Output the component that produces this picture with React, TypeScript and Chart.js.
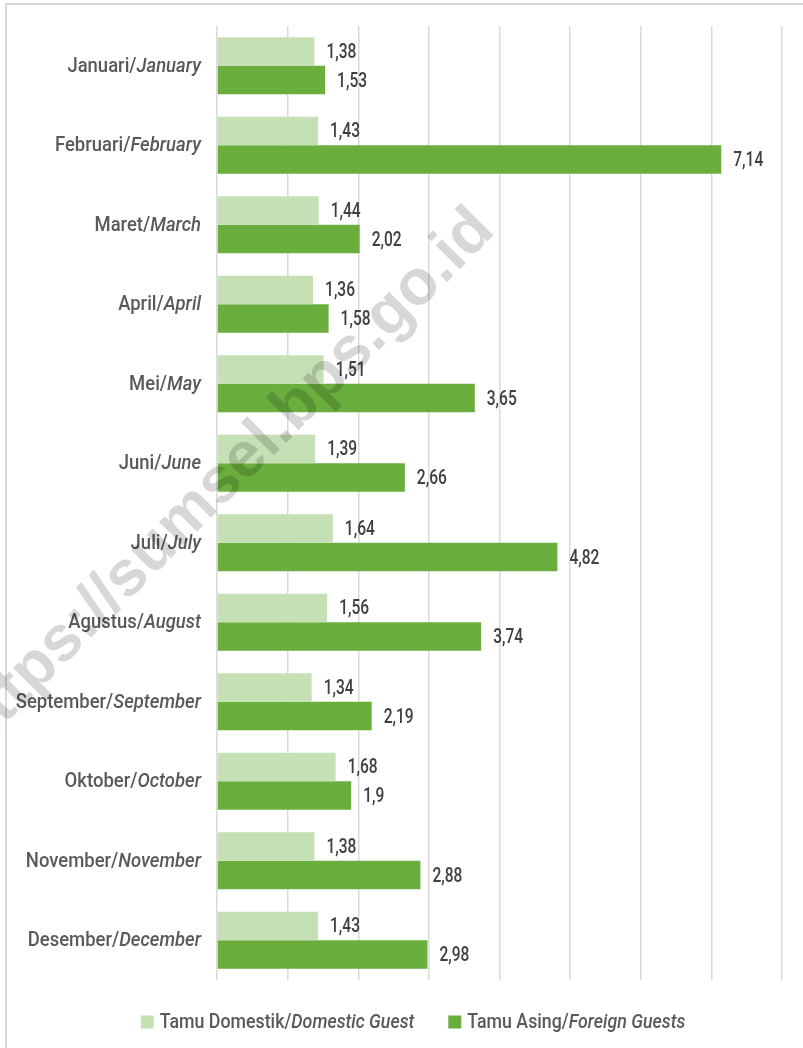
import React, { useEffect, useRef } from "react";
import { Chart, registerables } from "chart.js";

Chart.register(...registerables);

const monthsId = ["Januari", "Februari", "Maret", "April", "Mei", "Juni", "Juli", "Agustus", "September", "Oktober", "November", "Desember"];
const monthsEn = ["January", "February", "March", "April", "May", "June", "July", "August", "September", "October", "November", "December"];
const domestic = [1.38, 1.43, 1.44, 1.36, 1.51, 1.39, 1.64, 1.56, 1.34, 1.68, 1.38, 1.43];
const foreign = [1.53, 7.14, 2.02, 1.58, 3.65, 2.66, 4.82, 3.74, 2.19, 1.9, 2.88, 2.98];
const xMin = 0;
const xMax = 8;
const xStep = 1;
const seriesId = ["Tamu Domestik", "Tamu Asing"];
const seriesEn = ["Domestic Guest", "Foreign Guests"];
const watermarkText = "https://sumsel.bps.go.id";

const COLORS = ["#c6e0b5", "#6aae3e"];
const FONT = 'Roboto, "Noto Sans", sans-serif';

const fmt = (v: number) => String(v).replace(".", ",");

// draw text horizontally condensed by factor sx, left-aligned at x
function drawScaled(ctx: any, text: string, x: number, y: number, sx: number) {
  ctx.save();
  ctx.translate(x, y);
  ctx.scale(sx, 1);
  ctx.fillText(text, 0, 0);
  ctx.restore();
}

export default function App() {
  const ref = useRef<HTMLCanvasElement | null>(null);

  useEffect(() => {
    const canvas = ref.current;
    if (!canvas) return;

    const LABEL_FONT_N = `500 20px ${FONT}`;
    const LABEL_FONT_I = `italic 500 20px ${FONT}`;
    const VAL_FONT = `500 20px ${FONT}`;

    const customPlugin = {
      id: "custom",
      afterDatasetsDraw(chart: any) {
        const ctx = chart.ctx;
        ctx.save();
        ctx.font = VAL_FONT;
        const sx = 30 / ctx.measureText("1,38").width;
        ctx.fillStyle = "#404040";
        ctx.textAlign = "left";
        ctx.textBaseline = "middle";
        chart.data.datasets.forEach((ds: any, di: number) => {
          const meta = chart.getDatasetMeta(di);
          meta.data.forEach((el: any, i: number) => {
            drawScaled(ctx, fmt(ds.data[i]), el.x + 12, el.y + 1.5, sx);
          });
        });
        ctx.restore();
      },
      afterDraw(chart: any) {
        const ctx = chart.ctx;
        const yScale = chart.scales.y;
        ctx.save();
        ctx.fillStyle = "#595959";
        ctx.textBaseline = "middle";
        ctx.textAlign = "left";

        // condense factor fitted so that the widest label matches the reference
        ctx.font = LABEL_FONT_N;
        const wRefN = ctx.measureText("Februari/").width;
        ctx.font = LABEL_FONT_I;
        const wRefI = ctx.measureText("February").width;
        const sx = 146 / (wRefN + wRefI);

        const rightX = 201;
        monthsId.forEach((m, i) => {
          const y = yScale.getPixelForValue(i) + 1;
          ctx.font = LABEL_FONT_I;
          const wi = ctx.measureText(monthsEn[i]).width * sx;
          ctx.font = LABEL_FONT_N;
          const norm = m + "/";
          const wn = ctx.measureText(norm).width * sx;
          drawScaled(ctx, norm, rightX - wi - wn, y, sx);
          ctx.font = LABEL_FONT_I;
          drawScaled(ctx, monthsEn[i], rightX - wi, y, sx);
        });

        // legend
        const legendY = 1022;
        const box = 13;
        const gapBox = 6;
        const gapItems = 34;
        const lsx = sx * 0.963;
        const widths = seriesId.map((s, i) => {
          ctx.font = LABEL_FONT_N;
          const a = ctx.measureText(s + "/").width * lsx;
          ctx.font = LABEL_FONT_I;
          const b = ctx.measureText(seriesEn[i]).width * lsx;
          return { a, b, total: box + gapBox + a + b };
        });
        const totalW = widths.reduce((s, w) => s + w.total, 0) + gapItems;
        let lx = 413 - totalW / 2;
        seriesId.forEach((s, i) => {
          ctx.fillStyle = COLORS[i];
          ctx.fillRect(lx, legendY - box / 2, box, box);
          ctx.fillStyle = "#595959";
          ctx.font = LABEL_FONT_N;
          drawScaled(ctx, s + "/", lx + box + gapBox, legendY + 1, lsx);
          ctx.font = LABEL_FONT_I;
          drawScaled(ctx, seriesEn[i], lx + box + gapBox + widths[i].a, legendY + 1, lsx);
          lx += widths[i].total + gapItems;
        });

        // watermark
        ctx.translate(224, 480);
        ctx.rotate(-Math.PI / 4);
        ctx.font = `bold 64px "Liberation Sans", Arial, sans-serif`;
        ctx.fillStyle = "rgba(0,0,0,0.155)";
        ctx.textAlign = "center";
        ctx.textBaseline = "middle";
        ctx.fillText(watermarkText, 0, 0);
        ctx.restore();
      },
    };

    const chart = new Chart(canvas, {
      type: "bar",
      data: {
        labels: monthsId.map((m, i) => `${m}/${monthsEn[i]}`),
        datasets: [
          {
            label: `${seriesId[0]}/${seriesEn[0]}`,
            data: domestic,
            backgroundColor: COLORS[0],
            borderWidth: 0,
            categoryPercentage: 0.72,
            barPercentage: 1,
          },
          {
            label: `${seriesId[1]}/${seriesEn[1]}`,
            data: foreign,
            backgroundColor: COLORS[1],
            borderWidth: 0,
            categoryPercentage: 0.72,
            barPercentage: 1,
          },
        ],
      },
      options: {
        indexAxis: "y",
        responsive: false,
        animation: false,
        devicePixelRatio: 1,
        layout: { padding: { left: 217, right: 21, top: 26, bottom: 68 } },
        plugins: {
          legend: { display: false },
          tooltip: { enabled: false },
          title: { display: false },
        },
        scales: {
          x: {
            type: "linear",
            min: xMin,
            max: xMax,
            ticks: { display: false, stepSize: xStep },
            grid: { color: "#d9d9d9", lineWidth: 1.5, drawTicks: false },
            border: { display: false },
          },
          y: {
            ticks: { display: false },
            grid: { display: false, drawTicks: false },
            border: { display: false },
          },
        },
      },
      plugins: [customPlugin],
    } as any);

    return () => chart.destroy();
  }, []);

  return (
    <div style={{ position: "absolute", left: 0, top: 0, width: 803, height: 1048, background: "#fff", overflow: "hidden" }}>
      <div
        style={{
          position: "absolute",
          left: 5,
          top: 3,
          width: 798,
          height: 1045,
          borderTop: "2px solid #d9d9d9",
          borderLeft: "2px solid #d9d9d9",
          boxSizing: "border-box",
        }}
      />
      <canvas ref={ref} width={803} height={1048} style={{ position: "absolute", left: 0, top: 0, display: "block" }} />
    </div>
  );
}
